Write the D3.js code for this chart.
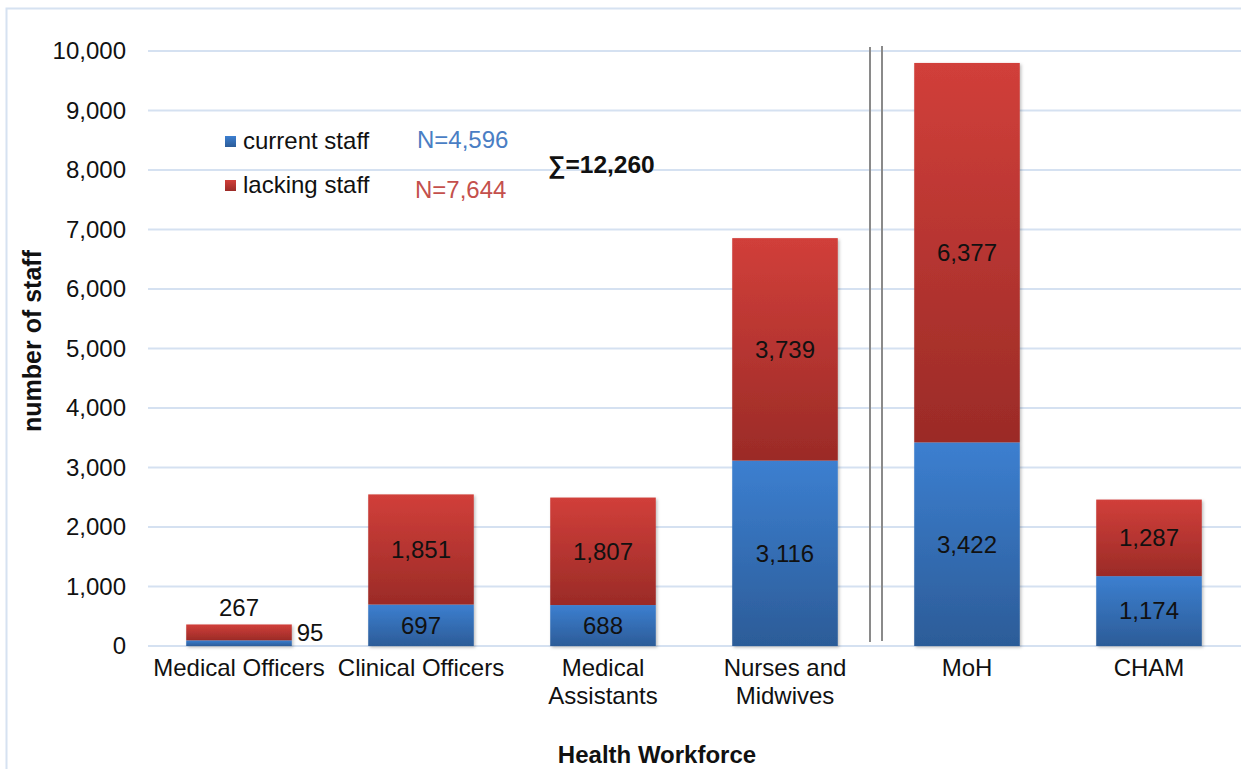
<!DOCTYPE html>
<html>
<head>
<meta charset="utf-8">
<script src="https://cdn.jsdelivr.net/npm/d3@7"></script>
<style>
  body { margin: 0; background: #fff; }
  svg { display: block; font-family: "Liberation Sans", Arial, sans-serif; }
</style>
</head>
<body>
<svg id="chart" width="1241" height="769"></svg>
<script>
// Health workforce: current vs lacking staff
const categories = ["Medical Officers", "Clinical Officers", "Medical Assistants", "Nurses and Midwives", "MoH", "CHAM"];
const categoryLines = [["Medical Officers"], ["Clinical Officers"], ["Medical", "Assistants"], ["Nurses and", "Midwives"], ["MoH"], ["CHAM"]];
const currentStaff = [95, 697, 688, 3116, 3422, 1174];
const lackingStaff = [267, 1851, 1807, 3739, 6377, 1287];
const yTicks = [0, 1000, 2000, 3000, 4000, 5000, 6000, 7000, 8000, 9000, 10000];
const seriesNames = ["current staff", "lacking staff"];
const seriesTotals = ["N=4,596", "N=7,644"];
const grandTotal = "\u2211=12,260";

const svg = d3.select("#chart");
const margin = { left: 148, right: 1240, top: 51, bottom: 646 };
const FS = 24;

const x = d3.scaleBand().domain(categories).range([margin.left, margin.right]).paddingInner(0.42).paddingOuter(0.21);
const y = d3.scaleLinear().domain([0, 10000]).range([margin.bottom, margin.top]);
const fmt = d3.format(",");

// gradients
const defs = svg.append("defs");
function grad(id, top, bottom) {
  const g = defs.append("linearGradient").attr("id", id).attr("x1", 0).attr("y1", 0).attr("x2", 0).attr("y2", 1);
  g.append("stop").attr("offset", "0%").attr("stop-color", top);
  g.append("stop").attr("offset", "100%").attr("stop-color", bottom);
}
grad("gBlue", "#3c7fd0", "#2c5c98");
grad("gRed", "#d13f3a", "#9b2b27");
const shadow = defs.append("filter").attr("id", "shadow").attr("x", "-10%").attr("y", "-10%").attr("width", "130%").attr("height", "130%");
shadow.append("feDropShadow").attr("dx", 1.5).attr("dy", 1.5).attr("stdDeviation", 1.5).attr("flood-color", "#000").attr("flood-opacity", 0.25);

// outer frame
svg.append("path").attr("d", "M6.5,769 V8.5 H1241").attr("fill", "none").attr("stroke", "#d6e2f1").attr("stroke-width", 2);

// gridlines
svg.append("g").selectAll("line").data(yTicks).join("line")
  .attr("x1", margin.left).attr("x2", margin.right + 1)
  .attr("y1", d => y(d)).attr("y2", d => y(d))
  .attr("stroke", "#d5e1f1").attr("stroke-width", 2);

// y axis labels
const yAxis = svg.append("g").attr("transform", `translate(${margin.left},0)`)
  .call(d3.axisLeft(y).tickValues(yTicks).tickFormat(fmt).tickSize(0).tickPadding(22));
yAxis.select(".domain").remove();
yAxis.selectAll("text").attr("font-size", FS).attr("fill", "#111").attr("font-family", "Liberation Sans, Arial, sans-serif");

// bars
const bars = svg.append("g");
categories.forEach((c, i) => {
  const g = bars.append("g").attr("filter", "url(#shadow)");
  g.append("rect").attr("x", x(c)).attr("width", x.bandwidth())
    .attr("y", y(currentStaff[i])).attr("height", y(0) - y(currentStaff[i])).attr("fill", "url(#gBlue)");
  g.append("rect").attr("x", x(c)).attr("width", x.bandwidth())
    .attr("y", y(currentStaff[i] + lackingStaff[i])).attr("height", y(currentStaff[i]) - y(currentStaff[i] + lackingStaff[i])).attr("fill", "url(#gRed)");
});

// value labels
const labels = svg.append("g").attr("font-size", FS).attr("fill", "#111");
categories.forEach((c, i) => {
  const cx = x(c) + x.bandwidth() / 2;
  const cur = currentStaff[i], lack = lackingStaff[i];
  if (i === 0) {
    labels.append("text").attr("x", cx).attr("y", y(cur + lack) - 17).attr("dy", "0.35em").attr("text-anchor", "middle").text(fmt(lack));
    labels.append("text").attr("x", x(c) + x.bandwidth() + 5).attr("y", y(cur) - 8).attr("dy", "0.35em").attr("text-anchor", "start").text(fmt(cur));
  } else {
    labels.append("text").attr("x", cx).attr("y", (y(0) + y(cur)) / 2).attr("dy", "0.35em").attr("text-anchor", "middle").text(fmt(cur));
    labels.append("text").attr("x", cx).attr("y", (y(cur) + y(cur + lack)) / 2).attr("dy", "0.35em").attr("text-anchor", "middle").text(fmt(lack));
  }
});

// category labels
const xl = svg.append("g").attr("font-size", FS).attr("fill", "#111").attr("text-anchor", "middle");
categories.forEach((c, i) => {
  const t = xl.append("text").attr("x", x(c) + x.bandwidth() / 2).attr("y", 676);
  categoryLines[i].forEach((line, k) => {
    t.append("tspan").attr("x", x(c) + x.bandwidth() / 2).attr("dy", k === 0 ? 0 : 28).text(line);
  });
});

// separator between groups
const sepX = (x("Nurses and Midwives") + x.bandwidth() + x("MoH")) / 2;
svg.append("line").attr("x1", sepX - 6).attr("x2", sepX - 6).attr("y1", 47).attr("y2", 642).attr("stroke", "#8a8a8a").attr("stroke-width", 2);
svg.append("line").attr("x1", sepX + 6).attr("x2", sepX + 6).attr("y1", 46).attr("y2", 641).attr("stroke", "#8a8a8a").attr("stroke-width", 2);

// axis titles
svg.append("text").attr("transform", "translate(41,341) rotate(-90)").attr("text-anchor", "middle")
  .attr("font-size", 25).attr("font-weight", "bold").attr("fill", "#111").text("number of staff");
svg.append("text").attr("x", 657).attr("y", 763).attr("text-anchor", "middle")
  .attr("font-size", 24).attr("font-weight", "bold").attr("fill", "#111").text("Health Workforce");

// legend
const legendColors = ["url(#gBlue)", "url(#gRed)"];
const totalColors = ["#4a7ec4", "#c4504c"];
seriesNames.forEach((s, i) => {
  const ly = 141 + i * 44;
  svg.append("rect").attr("x", 225).attr("y", ly - 5).attr("width", 11).attr("height", 11).attr("fill", legendColors[i]);
  svg.append("text").attr("x", 243).attr("y", ly).attr("dy", "0.35em").attr("font-size", FS).attr("fill", "#111").text(s);
  svg.append("text").attr("x", i === 0 ? 417 : 415).attr("y", ly - 1 + i * 6).attr("dy", "0.35em").attr("font-size", FS).attr("fill", totalColors[i]).text(seriesTotals[i]);
});
svg.append("text").attr("x", 548).attr("y", 164).attr("dy", "0.35em").attr("font-size", 24.5).attr("font-weight", "bold").attr("fill", "#111").text(grandTotal);
</script>
</body>
</html>
